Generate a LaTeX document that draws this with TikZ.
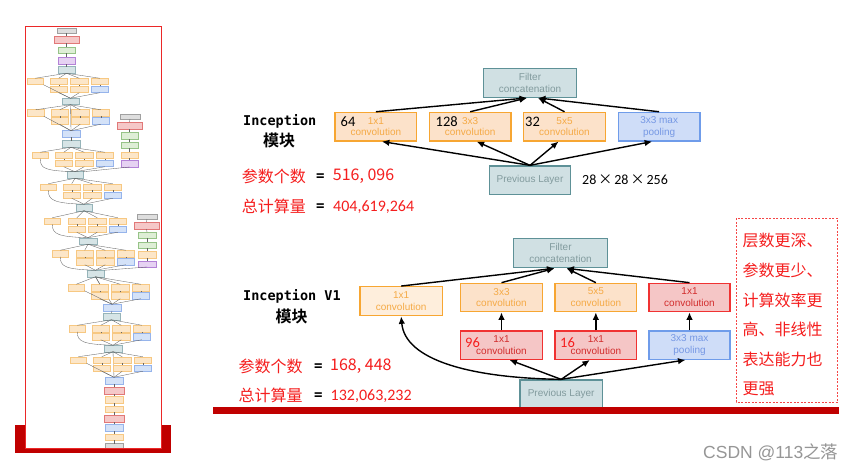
\documentclass[tikz,border=0pt]{standalone}
\usepackage{fontspec}
\setmainfont{Liberation Sans}
\newfontfamily\cjk{Noto Sans CJK SC}
\newfontfamily\cjkb{Noto Sans CJK SC Bold}
\newfontfamily\monob{DejaVu Sans Mono Bold}
\newfontfamily\carl{Carlito}
\usetikzlibrary{arrows.meta}
\definecolor{barred}{RGB}{192,0,0}
\definecolor{thumbred}{RGB}{235,40,40}
\definecolor{orbd}{RGB}{247,166,50}
\definecolor{orfill}{RGB}{252,226,202}
\definecolor{orfillb}{RGB}{254,238,220}
\definecolor{ortx}{RGB}{245,170,70}
\definecolor{tlbd}{RGB}{94,145,151}
\definecolor{tlfill}{RGB}{208,224,227}
\definecolor{tltx}{RGB}{130,155,158}
\definecolor{blbd}{RGB}{111,156,234}
\definecolor{blfill}{RGB}{207,221,248}
\definecolor{bltx}{RGB}{118,152,228}
\definecolor{rdbd}{RGB}{240,50,50}
\definecolor{rdfill}{RGB}{245,198,198}
\definecolor{rdtx}{RGB}{210,45,45}
\definecolor{redtext}{RGB}{245,30,30}
\definecolor{dashred}{RGB}{245,70,70}
\definecolor{wmgray}{RGB}{150,150,150}
% thumbnail colours
\definecolor{thor}{RGB}{247,200,130}
\definecolor{thorf}{RGB}{252,230,200}
\definecolor{thbl}{RGB}{150,180,235}
\definecolor{thblf}{RGB}{212,226,248}
\definecolor{thct}{RGB}{150,180,185}
\definecolor{thctf}{RGB}{214,228,230}
\definecolor{thrd}{RGB}{225,120,120}
\definecolor{thrdf}{RGB}{245,200,200}
\definecolor{thgn}{RGB}{150,195,135}
\definecolor{thgnf}{RGB}{222,238,214}
\definecolor{thpu}{RGB}{180,130,215}
\definecolor{thpuf}{RGB}{230,210,242}
\definecolor{thgy}{RGB}{160,160,160}
\definecolor{thgyf}{RGB}{222,222,222}
\begin{document}
\begin{tikzpicture}[x=1pt,y=-1pt,
  tb/.style={draw, line width=0.5pt, inner sep=0pt, outer sep=0pt, minimum height=6.5pt, minimum width=17.5pt},
  tor/.style={draw=thor, fill=thorf},
  tbl/.style={draw=thbl, fill=thblf},
  tct/.style={draw=thct, fill=thctf},
  trd/.style={draw=thrd, fill=thrdf},
  tgn/.style={draw=thgn, fill=thgnf},
  tpu/.style={draw=thpu, fill=thpuf},
  tgy/.style={draw=thgy, fill=thgyf},
  tl/.style={draw=black!60, line width=0.35pt},
  bx/.style={line width=1.3pt, inner sep=0pt, align=center, minimum width=81.7pt, minimum height=28.5pt, font=\fontsize{10}{11.8}\selectfont},
  obox/.style={bx, draw=orbd, fill=orfill, text=ortx},
  tbox/.style={bx, draw=tlbd, fill=tlfill, text=tltx},
  bbox/.style={bx, draw=blbd, fill=blfill, text=bltx},
  rbox/.style={bx, draw=rdbd, fill=rdfill, text=rdtx},
  arr/.style={-{Latex[length=7.5pt,width=6.5pt]}, line width=1.4pt, black},
  numtx/.style={anchor=west, inner sep=0pt, font=\fontsize{14.5}{16}\selectfont\carl},
  titletx/.style={anchor=west, inner sep=0pt, font=\fontsize{13.5}{16}\selectfont\monob},
  mktx/.style={inner sep=0pt, font=\fontsize{16}{18}\selectfont\cjkb},
  redtx/.style={anchor=west, inner sep=0pt, text=redtext, font=\fontsize{16}{18}\selectfont\cjk},
  eqtx/.style={inner sep=0pt, font=\fontsize{14}{16}\selectfont\monob},
  sidetx/.style={anchor=west, inner sep=0pt, text=redtext, font=\fontsize{16}{18}\selectfont\cjk}
]
\useasboundingbox (0,0) rectangle (865,468);
\fill[white] (0,0) rectangle (865,468);

% ---------------- thumbnail ----------------
\fill[barred] (15,425) rectangle (171,453);
\draw[fill=white, draw=thumbred, line width=1pt] (25.7,27) rectangle (161.7,448);
\begin{scope}
\clip (26.2,27.5) rectangle (161.2,447.5);
\node[tb, tgy, minimum width=19pt, minimum height=5pt] (s0) at (66.5,30.5) {};
\node[tb, trd, minimum width=25pt, minimum height=7pt] (r0) at (66.5,39.5) {};
\node[tb, tgn, minimum width=17pt, minimum height=6pt] (g0) at (66.5,50) {};
\node[tb, tpu, minimum width=17pt, minimum height=7pt] (p0) at (66.5,60.5) {};
\node[tb, tct, minimum width=17pt] (cA) at (66.5,70) {};
\node[tb, tct] (cB) at (70.5,101.5) {};
\node[tb, tbl] (mpA) at (71,134) {};
\node[tb, tct] (cC) at (71,144) {};
\node[tb, tct, minimum width=16pt] (cD) at (75,175) {};
\node[tb, tct, minimum width=16pt] (cE) at (84,207.5) {};
\node[tb, tct] (cF) at (88,241) {};
\node[tb, tct] (cG) at (95.5,273.5) {};
\node[tb, tbl] (mpB) at (112,307.5) {};
\node[tb, tct] (cH) at (111.5,316.5) {};
\node[tb, tct] (cI) at (113,348.5) {};
\node[tb, tbl] (mpC) at (114,380.5) {};
\node[tb, trd, minimum width=20pt] (l1) at (114,390.5) {};
\node[tb, tor] (v1) at (114,399.5) {};
\node[tb, tor] (v2) at (114,409) {};
\node[tb, trd, minimum width=20pt] (l2) at (114,418.5) {};
\node[tb, tbl] (mpD) at (114,427.5) {};
\node[tb, tor] (v3) at (114,437) {};
\node[tb, tgy, minimum height=5pt] (in0) at (114,446) {};
\foreach \a/\b in {r0/s0, g0/r0, p0/g0, cA/p0, mpA/cB, cC/mpA, mpB/cG, cH/mpB, mpC/cI, l1/mpC, v1/l1, v2/v1, l2/v2, mpD/l2, v3/mpD, in0/v3}
  \draw[tl] (\a.north) -- (\b.south);
% auxiliary classifiers
\node[tb, tgy, minimum width=20pt, minimum height=5pt] (a1s) at (130,116.5) {};
\node[tb, trd, minimum width=25pt, minimum height=7pt] (a1r) at (129.5,125.5) {};
\node[tb, tgn, minimum width=17pt, minimum height=7pt] (a1g) at (129.5,135.5) {};
\node[tb, tgn, minimum width=17pt, minimum height=6pt] (a1h) at (129.5,145) {};
\node[tb, tor, minimum width=17pt, minimum height=6pt] (a1o) at (129.5,155) {};
\node[tb, tpu, minimum width=17pt, minimum height=7pt] (a1p) at (129.5,163.5) {};
\node[tb, tgy, minimum width=20pt, minimum height=5pt] (a2s) at (147,216.5) {};
\node[tb, trd, minimum width=25pt, minimum height=7pt] (a2r) at (146.5,225.5) {};
\node[tb, tgn, minimum width=18pt, minimum height=6pt] (a2g) at (147,235) {};
\node[tb, tgn, minimum width=18pt, minimum height=6pt] (a2h) at (147,245) {};
\node[tb, tor, minimum width=18pt, minimum height=7pt] (a2o) at (147,254.5) {};
\node[tb, tpu, minimum width=18pt, minimum height=6pt] (a2p) at (147,264) {};
\foreach \a/\b in {a1r/a1s, a1g/a1r, a1h/a1g, a1o/a1h, a1p/a1o, a2r/a2s, a2g/a2r, a2h/a2g, a2o/a2h, a2p/a2o}
  \draw[tl] (\a.north) -- (\b.south);
\draw[tl] (cD.north east) -- (a1p.south);
\draw[tl] (cG.north east) -- (a2p.south);
% inception modules
\foreach \n/\ya/\xl/\xs/\up/\dn/\cv in {1/81.5/27/50/cA/cB/0, 2/113/27.3/51/cB/mpA/0, 3/155.5/32/55/cC/cD/1, 4/187/40/63/cD/cE/1, 5/221/44/68/cE/cF/1, 6/253.5/52/76/cF/cG/1, 7/287.5/68/91/cG/mpB/0, 8/328.5/69/92/cH/cI/1, 9/360/70/93/cI/mpC/0} {
  \node[tb, tor, minimum width=16.5pt] (m\n a) at (\xl+8.25,\ya) {};
  \node[tb, tor] (m\n b) at (\xs+8.75,\ya) {};
  \node[tb, tor] (m\n c) at (\xs+29.25,\ya) {};
  \node[tb, tor] (m\n d) at (\xs+49.75,\ya) {};
  \node[tb, tor] (m\n e) at (\xs+8.75,\ya+8) {};
  \node[tb, tor] (m\n f) at (\xs+29.25,\ya+8) {};
  \node[tb, tbl] (m\n g) at (\xs+49.75,\ya+8) {};
  \foreach \k in {a,b,c,d} \draw[tl] (m\n \k.north) -- (\up.south);
  \draw[tl] (m\n e.north) -- (m\n b.south);
  \draw[tl] (m\n f.north) -- (m\n c.south);
  \draw[tl] (m\n g.north) -- (m\n d.south);
  \foreach \k in {e,f,g} \draw[tl] (\dn.north) -- (m\n \k.south);
  \ifnum\cv=1
    \draw[tl] (\dn.north) .. controls +(-30,-1) and +(0,10) .. (m\n a.south);
  \else
    \draw[tl] (\dn.north) -- (m\n a.south east);
  \fi
}
\end{scope}

% ---------------- top inception module ----------------
\node[tbox, minimum width=93.4pt, minimum height=29pt] (tc) at (530,82.8) {Filter\\concatenation};
\node[obox] (t1) at (375.85,126.65) {1x1\\convolution};
\node[obox] (t2) at (470.15,126.65) {3x3\\convolution};
\node[obox, minimum width=82.4pt] (t3) at (564.5,126.65) {5x5\\convolution};
\node[bbox] (t4) at (659.15,126.65) {3x3 max\\pooling};
\node[tbox, minimum width=81.4pt, minimum height=28.3pt] (tp) at (530,180.15) {Previous Layer};
\node[numtx] (n64) at (340.5,122) {64};
\node[numtx] (n128) at (435.5,122) {128};
\node[numtx] (n32) at (525,122) {32};
\draw[arr] (t1.north) -- ([xshift=-3pt]tc.south);
\draw[arr] (t2.north) -- ([xshift=-3pt]tc.south);
\draw[arr] (t3.north) -- ([xshift=8pt]tc.south);
\draw[arr] (t4.north) -- ([xshift=8pt]tc.south);
\draw[arr] (tp.north) -- ([xshift=6pt]t1.south);
\draw[arr] (tp.north) -- ([xshift=6.5pt]t2.south);
\draw[arr] (tp.north) -- ([xshift=-6pt]t3.south);
\draw[arr] (tp.north) -- ([xshift=-7pt]t4.south);
\node[anchor=west, inner sep=0pt, font=\fontsize{14}{16}\selectfont\carl] (dims) at (582,179.3) {28\hspace{2pt}{\cjk ×}\hspace{2pt}28\hspace{2pt}{\cjk ×}\hspace{2pt}256};

\node[titletx] (inc1) at (243,121) {Inception};
\node[mktx] (mk1) at (279,140.5) {模块};
\node[redtx] (pa1) at (241.7,176.7) {参数个数};
\node[eqtx] (eq1) at (320.3,176.7) {=};
\node[redtx] (va1) at (332.7,176.7) {516, 096};
\node[redtx] (pb1) at (241.7,206.7) {总计算量};
\node[eqtx] (eq2) at (320.3,206.7) {=};
\node[redtx, font=\fontsize{16}{18}\selectfont\carl] (vb1) at (333,206.7) {404,619,264};

% ---------------- bottom inception module ----------------
\node[tbox, minimum width=94.4pt, minimum height=29.4pt] (bc) at (560.5,253) {Filter\\concatenation};
\node[obox, fill=orfillb, minimum width=82.3pt, minimum height=29pt] (c1) at (401.15,301.2) {1x1\\convolution};
\node[obox, minimum width=81.6pt, minimum height=28.4pt] (c2) at (501.5,297.5) {3x3\\convolution};
\node[obox, minimum width=81.7pt, minimum height=28.4pt] (c3) at (595.85,297.5) {5x5\\convolution};
\node[rbox, minimum width=81pt, minimum height=28.4pt] (c4) at (689.5,297.5) {1x1\\convolution};
\node[rbox, minimum width=81.6pt, minimum height=28.3pt] (d2) at (501.5,345.15) {1x1\\convolution};
\node[rbox, minimum width=81.7pt, minimum height=28.3pt] (d3) at (595.85,345.15) {1x1\\convolution};
\node[bbox, minimum width=81pt, minimum height=28.3pt] (d4) at (689.5,345.15) {3x3 max\\pooling};
\node[tbox, minimum width=82.3pt, minimum height=28.3pt] (bp) at (561.15,394.15) {Previous Layer};
\node[numtx, text=redtext] (n96) at (465,342.8) {96};
\node[numtx, text=redtext] (n16) at (560,342.8) {16};
\draw[arr] (c1.north) -- ([xshift=-6pt]bc.south);
\draw[arr] (c2.north) -- ([xshift=-6pt]bc.south);
\draw[arr] (c3.north) -- ([xshift=6pt]bc.south);
\draw[arr] (c4.north) -- ([xshift=6pt]bc.south);
\draw[arr] (d2.north) -- (c2.south);
\draw[arr] (d3.north) -- (c3.south);
\draw[arr] (d4.north) -- (c4.south);
\draw[arr] (bp.north) -- ([xshift=8pt]d2.south);
\draw[arr] (bp.north) -- ([xshift=-6pt]d3.south);
\draw[arr] (bp.north) -- ([xshift=-4pt]d4.south);
\draw[arr] (bp.north) .. controls (470,378) and (405,360) .. (c1.south);

\node[titletx] (inc2) at (243,296) {Inception V1};
\node[mktx] (mk2) at (291.7,316.5) {模块};
\node[redtx] (pa2) at (238.3,366.7) {参数个数};
\node[eqtx] (eq3) at (318.3,366.7) {=};
\node[redtx] (va2) at (330,366.7) {168, 448};
\node[redtx] (pb2) at (238.3,395.7) {总计算量};
\node[eqtx] (eq4) at (318.3,395.7) {=};
\node[redtx, font=\fontsize{16}{18}\selectfont\carl] (vb2) at (330.5,395.7) {132,063,232};

% red bar
\fill[barred] (213,407) rectangle (839,413.5);

% side note
\draw[draw=dashred, line width=1pt, dash pattern=on 2pt off 1.5pt] (736,218.3) rectangle (837.3,402.3);
\node[sidetx] (s1) at (742.5,240.7) {层数更深、};
\node[sidetx] (s2) at (742.5,270.5) {参数更少、};
\node[sidetx] (s3) at (742.5,300) {计算效率更};
\node[sidetx] (s4) at (742.5,329.5) {高、非线性};
\node[sidetx] (s5) at (742.5,359.3) {表达能力也};
\node[sidetx] (s6) at (742.5,389) {更强};

% watermark
\node[anchor=west, inner sep=0pt, text=wmgray, font=\fontsize{17.5}{20}\selectfont] (wm) at (703,452.7) {CSDN @113{\cjk 之落}};
\end{tikzpicture}
\end{document}
